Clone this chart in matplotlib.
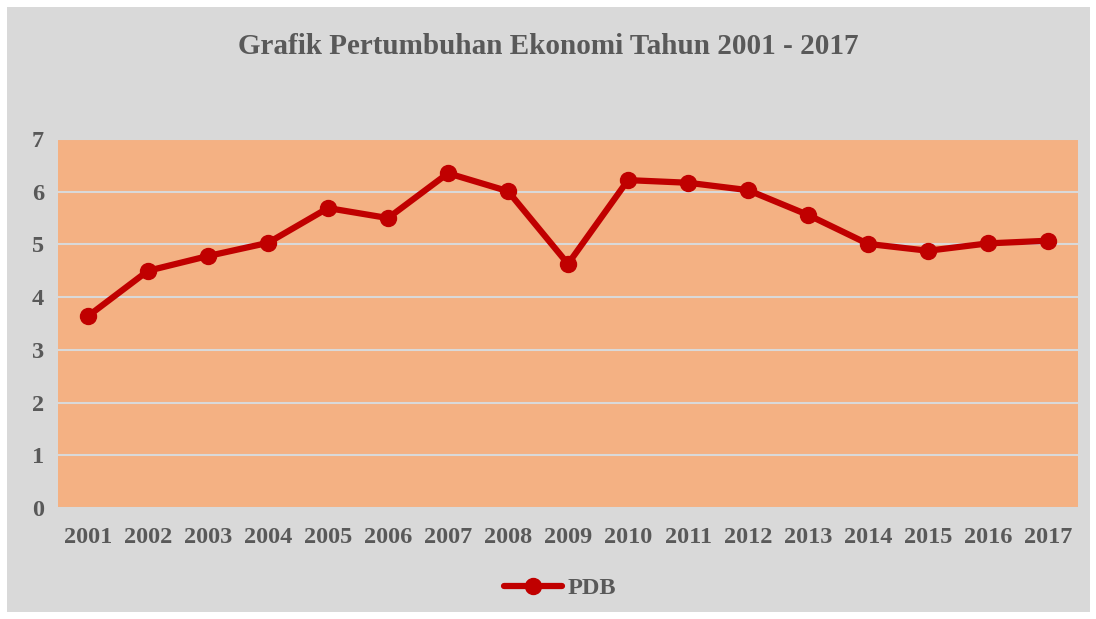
import matplotlib.pyplot as plt
from matplotlib.patches import Rectangle

# Data
years = ['2001', '2002', '2003', '2004', '2005', '2006', '2007', '2008', '2009',
         '2010', '2011', '2012', '2013', '2014', '2015', '2016', '2017']
pdb = [3.64, 4.50, 4.78, 5.03, 5.69, 5.50, 6.35, 6.01, 4.63,
       6.22, 6.17, 6.03, 5.56, 5.01, 4.88, 5.02, 5.07]

text_color = '#595959'
plt.rcParams['font.family'] = ['Liberation Serif', 'DejaVu Serif']

fig = plt.figure(figsize=(10.96, 6.19), dpi=100, facecolor='white')
# grey chart area inside a thin white border
bg = Rectangle((7 / 1096, 7 / 619), 1083 / 1096, 605 / 619,
               transform=fig.transFigure, facecolor='#d9d9d9',
               edgecolor='none', zorder=-10)
fig.add_artist(bg)

ax = fig.add_axes([58 / 1096, 111 / 619, 1020 / 1096, 369 / 619])
ax.set_zorder(1)
ax.set_facecolor('#f4b183')

x = list(range(len(years)))
ax.plot(x, pdb, color='#c00000', linewidth=4.5, marker='o', markersize=11.5,
        label='PDB', solid_capstyle='round', zorder=3)

ax.set_xlim(-0.5, len(years) - 0.5)
ax.set_ylim(0, 7)
ax.set_yticks(range(0, 8))
ax.set_xticks(x)
ax.set_xticklabels(years)
ax.grid(axis='y', color='#d9d9d9', linewidth=1.5)
ax.set_axisbelow(True)
for s in ax.spines.values():
    s.set_visible(False)
ax.tick_params(length=0, labelsize=17.5, labelcolor=text_color, pad=14)
ax.tick_params(axis='y', pad=10)
for lbl in ax.get_xticklabels() + ax.get_yticklabels():
    lbl.set_fontweight('bold')

fig.text(0.5, 1 - 46 / 619, 'Grafik Pertumbuhan Ekonomi Tahun 2001 - 2017',
         ha='center', va='center', fontsize=21, fontweight='bold', color=text_color)

leg = fig.legend(loc='center', bbox_to_anchor=(560 / 1096, 1 - 588 / 619), frameon=False,
                 prop={'size': 17.5, 'weight': 'bold'}, labelcolor=text_color,
                 handlelength=2.4, handletextpad=0.2)

fig.savefig('out.png', dpi=100, facecolor='white')
